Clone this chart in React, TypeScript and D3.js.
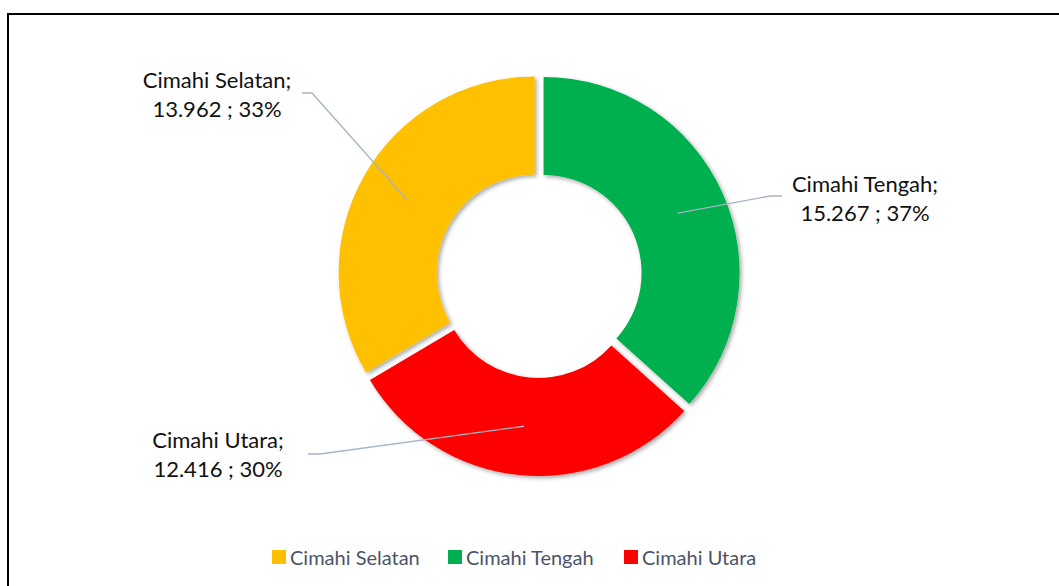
import { useMemo } from 'react';
import { pie, arc, PieArcDatum } from 'd3';

// data
const categories = ['Cimahi Tengah', 'Cimahi Utara', 'Cimahi Selatan'];
const values = [15.267, 12.416, 13.962];
const valueLabels = ['15.267', '12.416', '13.962'];
const percentLabels = ['37%', '30%', '33%'];
const colors = ['#00B050', '#FF0000', '#FFC000'];
const legendOrder = ['Cimahi Selatan', 'Cimahi Tengah', 'Cimahi Utara'];

const Settings = {
    width: 1059,
    height: 586,
    cx: 539,
    cy: 275,
    outer: 196,
    inner: 98,
    explode: 5,
    font: 'Lato, "Open Sans", sans-serif',
    labelSize: 22,
    legendSize: 20,
};

// where the data labels sit (label centre x, first baseline, leader elbow points)
const labelLayout: Record<string, { x: number; y: number; elbow: [number, number]; end: [number, number] }> = {
    'Cimahi Tengah': { x: 865, y: 192, elbow: [770, 196], end: [782, 196] },
    'Cimahi Utara': { x: 218, y: 448, elbow: [320, 454], end: [308, 454] },
    'Cimahi Selatan': { x: 217, y: 88, elbow: [312, 93], end: [302, 93] },
};

type Row = { name: string; value: number; color: string; valueLabel: string; pct: string };

function DonutChart() {
    const rows: Row[] = categories.map((name, i) => ({
        name,
        value: values[i],
        color: colors[i],
        valueLabel: valueLabels[i],
        pct: percentLabels[i],
    }));

    const arcs = useMemo(() => pie<Row>().sort(null).value(d => d.value)(rows), []);
    const arcGen = arc<PieArcDatum<Row>>().innerRadius(Settings.inner).outerRadius(Settings.outer);

    const shift = (d: PieArcDatum<Row>) => {
        const mid = (d.startAngle + d.endAngle) / 2;
        return [Math.sin(mid) * Settings.explode, -Math.cos(mid) * Settings.explode];
    };

    // legend layout
    const legendX = [272, 448, 624];
    const legendY = 550;

    return (
        <svg
            width={Settings.width}
            height={Settings.height}
            style={{ position: 'fixed', left: 0, top: 0, background: '#fff' }}
        >
            <defs>
                <filter id="shadow" x="-20%" y="-20%" width="140%" height="140%">
                    <feDropShadow dx="2" dy="2" stdDeviation="2" floodColor="#000" floodOpacity="0.35" />
                </filter>
            </defs>
            <rect x={0} y={0} width={Settings.width} height={Settings.height} fill="#fff" />
            {/* chart frame */}
            <path d={`M8,${Settings.height + 5} L8,14 L${Settings.width + 5},14`} fill="none" stroke="#000" strokeWidth={2} />

            <g transform={`translate(${Settings.cx},${Settings.cy})`}>
                {arcs.map(d => {
                    const [dx, dy] = shift(d);
                    return (
                        <path
                            key={d.data.name}
                            d={arcGen(d) || ''}
                            transform={`translate(${dx},${dy})`}
                            fill={d.data.color}
                            filter="url(#shadow)"
                        />
                    );
                })}
            </g>

            {arcs.map(d => {
                const [dx, dy] = shift(d);
                const [c0, c1] = arcGen.centroid(d);
                const start = [Settings.cx + c0 + dx, Settings.cy + c1 + dy];
                const lay = labelLayout[d.data.name];
                return (
                    <g key={'lbl' + d.data.name}>
                        <polyline
                            points={`${start[0]},${start[1]} ${lay.elbow[0]},${lay.elbow[1]} ${lay.end[0]},${lay.end[1]}`}
                            fill="none"
                            stroke="#A6B4C6"
                            strokeWidth={1.3}
                        />
                        <text
                            x={lay.x}
                            y={lay.y}
                            textAnchor="middle"
                            fontFamily={Settings.font}
                            fontSize={Settings.labelSize}
                            fill="#111"
                        >
                            <tspan x={lay.x}>{d.data.name};</tspan>
                            <tspan x={lay.x} dy={29}>{`${d.data.valueLabel} ; ${d.data.pct}`}</tspan>
                        </text>
                    </g>
                );
            })}

            {legendOrder.map((name, i) => {
                const idx = categories.indexOf(name);
                return (
                    <g key={'leg' + name} transform={`translate(${legendX[i]},${legendY})`}>
                        <rect width={14} height={14} fill={colors[idx]} />
                        <text
                            x={18}
                            y={15}
                            fontFamily={Settings.font}
                            fontSize={Settings.legendSize}
                            fill="#4B5568"
                        >
                            {name}
                        </text>
                    </g>
                );
            })}
        </svg>
    );
}

export default function App() {
    return <DonutChart />;
}
